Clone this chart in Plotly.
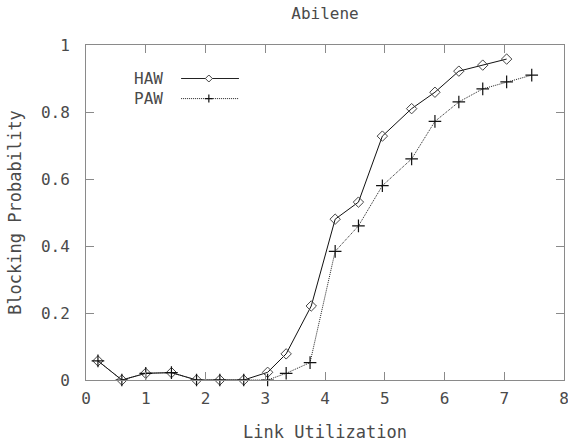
import plotly.graph_objects as go

title_text = "Abilene"
x_label = "Link Utilization"
y_label = "Blocking Probability"

haw_x = [0.2, 0.6, 1.0, 1.43, 1.85, 2.24, 2.64, 3.04, 3.35, 3.77, 4.17, 4.56, 4.96, 5.45, 5.84, 6.24, 6.64, 7.04]
haw_y = [0.057, 0.0, 0.02, 0.022, 0.0, 0.0, 0.0, 0.023, 0.078, 0.221, 0.48, 0.531, 0.728, 0.81, 0.859, 0.922, 0.94, 0.958]

paw_x = [0.2, 0.6, 1.0, 1.43, 1.85, 2.24, 2.64, 3.04, 3.35, 3.75, 4.17, 4.56, 4.96, 5.45, 5.84, 6.24, 6.64, 7.04, 7.46]
paw_y = [0.057, 0.0, 0.02, 0.022, 0.0, 0.0, 0.0, 0.0, 0.02, 0.052, 0.384, 0.46, 0.58, 0.66, 0.772, 0.83, 0.869, 0.89, 0.91]

x_ticks = [0, 1, 2, 3, 4, 5, 6, 7, 8]
y_ticks = [0, 0.2, 0.4, 0.6, 0.8, 1]
y_ticklabels = ["0", "0.2", "0.4", "0.6", "0.8", "1"]

FONT = "DejaVu Sans Mono"
TXT = "#4a4a4a"
FRAME = "#8a8a8a"

fig = go.Figure()
fig.add_trace(go.Scatter(
    x=haw_x, y=haw_y, name="HAW", mode="lines+markers",
    line=dict(color="#111111", width=1),
    marker=dict(symbol="diamond-open", size=8, color="#444444", line=dict(width=1)),
    cliponaxis=False, showlegend=False))
fig.add_trace(go.Scatter(
    x=paw_x, y=paw_y, name="PAW", mode="lines+markers",
    line=dict(color="#222222", width=1, dash="1px,1px"),
    marker=dict(symbol="cross-thin-open", size=9, color="#111111", line=dict(width=1.2, color="#111111")),
    cliponaxis=False, showlegend=False))

# custom legend (text left of sample, gnuplot style)
legend_items = [("HAW", 0.90, "solid", "diamond"), ("PAW", 0.84, "1px,1px", "cross")]
shapes = []
annotations = []
for name, yy, dash, sym in legend_items:
    annotations.append(dict(text=name, x=0.165, y=yy, xref="paper", yref="paper",
                            xanchor="right", yanchor="middle", showarrow=False,
                            font=dict(family=FONT, size=16, color=TXT)))
    shapes.append(dict(type="line", xref="paper", yref="paper", x0=0.199, x1=0.320, y0=yy, y1=yy,
                       line=dict(color="#222222", width=1, dash=dash)))
    if sym == "diamond":
        path = "M -3.5 0 L 0 -3.5 L 3.5 0 L 0 3.5 Z"
        shapes.append(dict(type="path", xref="paper", yref="paper", xsizemode="pixel", ysizemode="pixel",
                           xanchor=0.257, yanchor=yy, path=path,
                           fillcolor="white", line=dict(color="#444444", width=1)))
    else:
        path = "M -4 0 L 4 0 M 0 -4 L 0 4"
        shapes.append(dict(type="path", xref="paper", yref="paper", xsizemode="pixel", ysizemode="pixel",
                           xanchor=0.257, yanchor=yy, path=path,
                           line=dict(color="#111111", width=1.2)))

axis_common = dict(showgrid=False, zeroline=False, showline=True, linecolor=FRAME, linewidth=1,
                   mirror="ticks", ticks="inside", ticklen=8, tickcolor=FRAME, tickwidth=1,
                   ticklabeloverflow="allow", automargin=False,
                   tickfont=dict(family=FONT, size=16, color=TXT))

fig.update_layout(
    width=568, height=443,
    margin=dict(l=86, r=4, t=45, b=63, autoexpand=False),
    paper_bgcolor="white", plot_bgcolor="white",
    title=dict(text=title_text, x=0.5, xref="paper", xanchor="center", y=1 - 13 / 443, yanchor="middle",
               font=dict(family=FONT, size=16, color=TXT)),
    xaxis=dict(range=[0, 8], tickvals=x_ticks, ticktext=[str(t) for t in x_ticks],
               title=dict(text=x_label, standoff=18, font=dict(family=FONT, size=17, color=TXT)),
               ticklabelstandoff=4, **axis_common),
    yaxis=dict(range=[0, 1], tickvals=y_ticks, ticktext=y_ticklabels,
               title=dict(text=y_label, standoff=14, font=dict(family=FONT, size=17, color=TXT)),
               ticklabelstandoff=12, **axis_common),
    shapes=shapes, annotations=annotations,
)

fig.write_html("out.html")
